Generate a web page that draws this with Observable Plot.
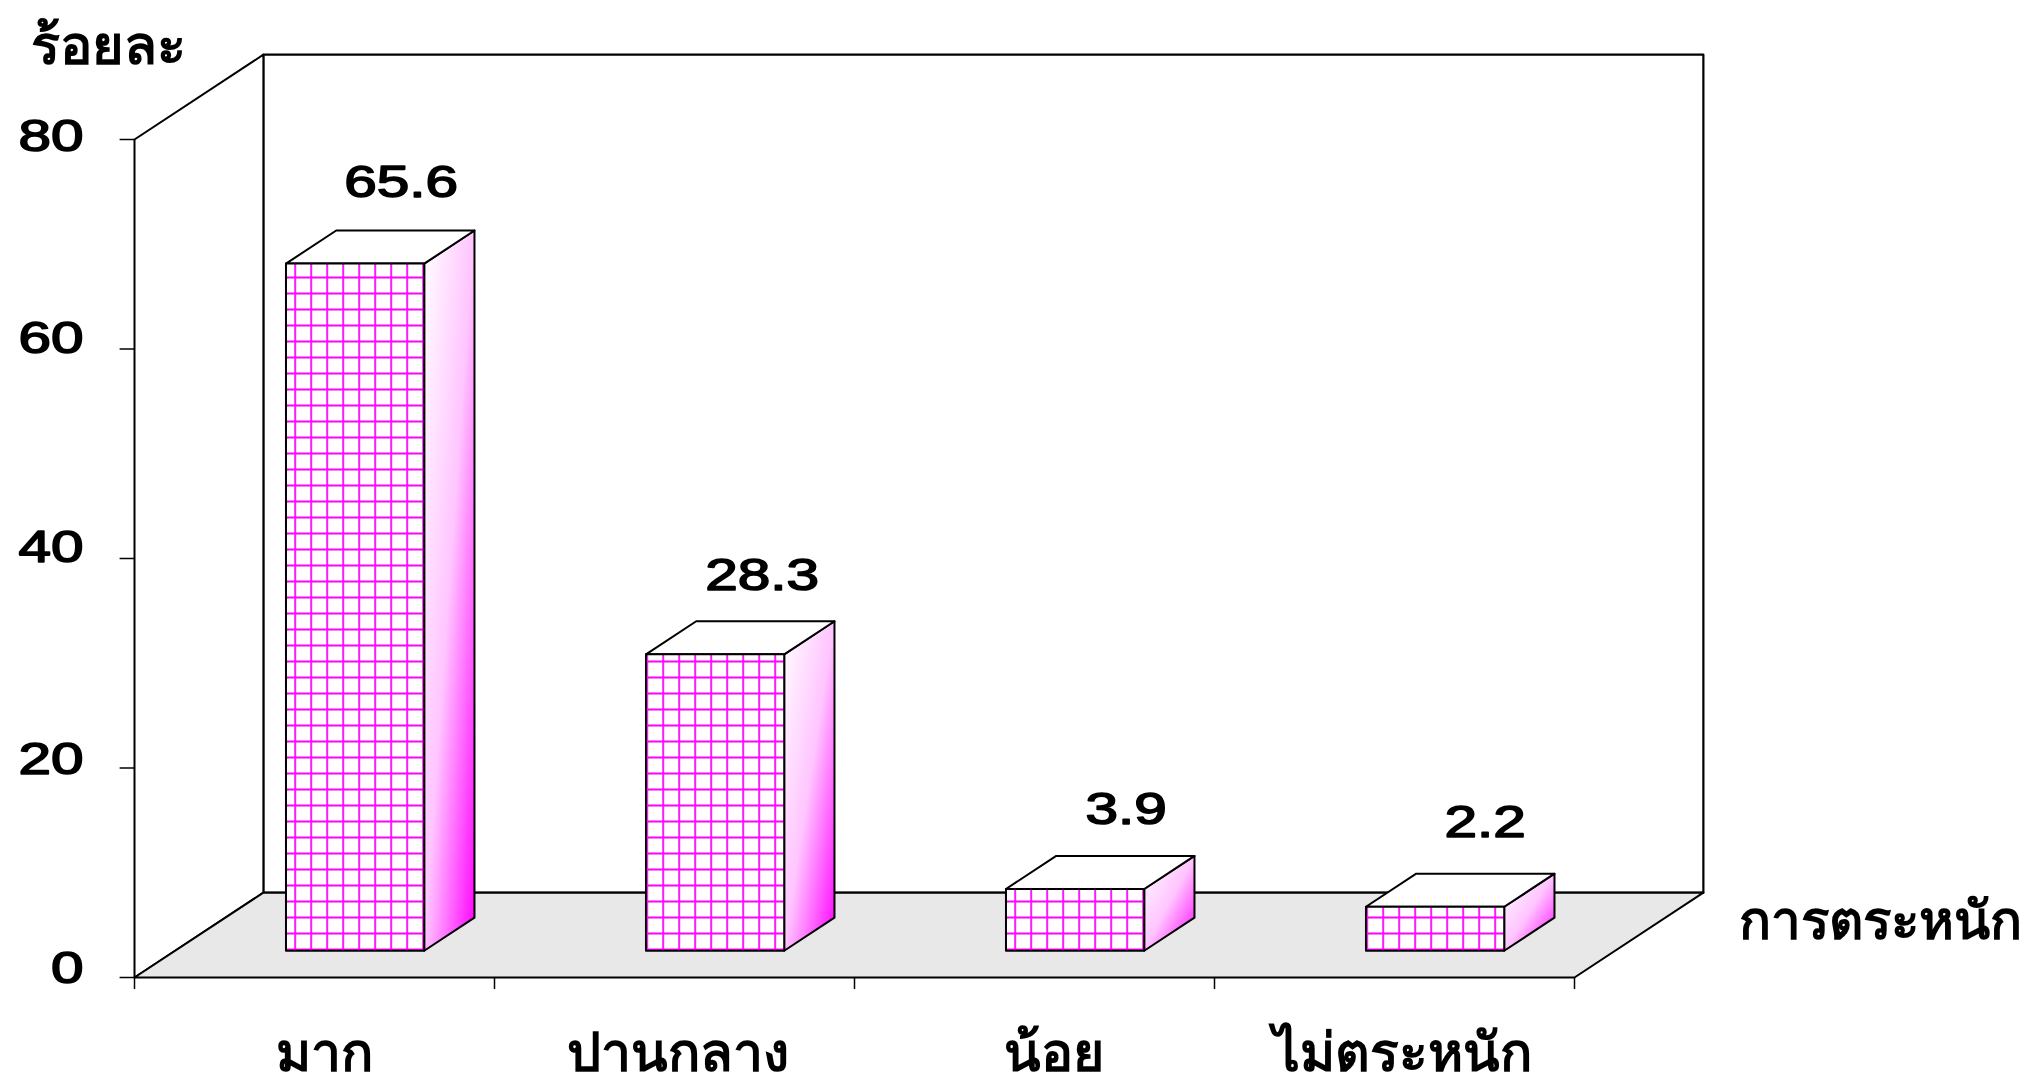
<!DOCTYPE html>
<html><head><meta charset="utf-8">
<script src="https://cdn.jsdelivr.net/npm/d3@7"></script>
<script src="https://cdn.jsdelivr.net/npm/@observablehq/plot@0.6"></script>
<style>html,body{margin:0;padding:0;background:#fff}svg{display:block}</style>
</head><body><div id="chart"></div>
<script>
const categories = ["มาก","ปานกลาง","น้อย","ไม่ตระหนัก"];
const valueLabels = ["65.6","28.3","3.9","2.2"];
const barHeights = [65.6,28.3,5.9,4.2];
const yTicks = [0,20,40,60,80];
const yTitle = "ร้อยละ";
const xTitle = "การตระหนัก";
const ink = "#000", magenta = "#ff00ff", floorFill = "#e8e8e8";
// hand-placed label nudges in the reference
const tickNudge = [-9,-8,-11,-10,-3];
const catNudge = [10,3,19,8];
const valueNudgeX = [46,47,51,50];
const valueNudgeY = [-81,-79,-79,-84];

const depthX = 0.358, depthY = 8.1;
const proj = (x,y,z)=>({x:x+depthX*z,y:y+depthY*z});
const poly = (id,pts)=>[...pts,pts[0]].map(p=>({id,...proj(...p)}));

const z0=0.315,z1=0.705,hw=0.192;
const wall = poly("wall",[[0,0,1],[4,0,1],[4,80,1],[0,80,1]]);
const side = poly("side",[[0,0,0],[0,0,1],[0,80,1],[0,80,0]]);
const floor = poly("floor",[[0,0,0],[4,0,0],[4,0,1],[0,0,1]]);
const fronts=[],tops=[],sides=[];
barHeights.forEach((h,i)=>{
  const c=i+0.5,a=c-hw,b=c+hw;
  fronts.push(...poly("f"+i,[[a,0,z0],[b,0,z0],[b,h,z0],[a,h,z0]]));
  tops.push(...poly("t"+i,[[a,h,z0],[b,h,z0],[b,h,z1],[a,h,z1]]));
  sides.push(...poly("s"+i,[[b,0,z0],[b,0,z1],[b,h,z1],[b,h,z0]]));
});
const labels = barHeights.map((h,i)=>({...proj(i+0.5,h,z0),t:valueLabels[i]}));

const defs = ()=>{
  const s=d3.create("svg:defs");
  const g=s.append("linearGradient").attr("id","sideGrad").attr("x1",0).attr("x2",1).attr("y1",0).attr("y2",1);
  g.append("stop").attr("offset",0).attr("stop-color","#fff");
  g.append("stop").attr("offset",0.5).attr("stop-color","#ffc4ff");
  g.append("stop").attr("offset",1).attr("stop-color",magenta);
  const p=s.append("pattern").attr("id","grid").attr("patternUnits","userSpaceOnUse")
    .attr("width",16).attr("height",16).attr("x",5.7).attr("y",4);
  p.append("rect").attr("width",16).attr("height",16).attr("fill","#fff");
  p.append("path").attr("d","M1 0V16M0 1H16").attr("stroke",magenta).attr("stroke-width",1.8).attr("fill","none");
  return s.node();
};
const font = "'Liberation Sans',Arial,sans-serif";
const numStyle = {fontSize:45,fontWeight:"normal",fill:ink,stroke:ink,strokeWidth:1.6,className:"num"};
const chart = Plot.plot({
  width:2026,height:1077,
  marginLeft:134,marginRight:452,marginTop:139,marginBottom:100,
  x:{type:"linear",domain:[0,4],axis:null},
  y:{type:"linear",domain:[0,80],axis:null},
  style:{background:"#fff",fontFamily:font},
  marks:[
    defs,
    Plot.line(wall,{x:"x",y:"y",z:"id",fill:"#fff",stroke:ink,strokeWidth:2.2}),
    Plot.line(side,{x:"x",y:"y",z:"id",fill:"#fff",stroke:ink,strokeWidth:2}),
    Plot.line(floor,{x:"x",y:"y",z:"id",fill:floorFill,stroke:ink,strokeWidth:2}),
    Plot.ruleY(yTicks,{x1:-0.04,x2:0,y:d=>d,stroke:ink,strokeWidth:1.5}),
    Plot.ruleX([0,1,2,3,4],{x:d=>d,y1:0,y2:-1.15,stroke:ink,strokeWidth:1.5}),
    Plot.line(sides,{x:"x",y:"y",z:"id",fill:"url(#sideGrad)",stroke:ink,strokeWidth:2}),
    Plot.line(tops,{x:"x",y:"y",z:"id",fill:"#fff",stroke:ink,strokeWidth:2}),
    Plot.line(fronts,{x:"x",y:"y",z:"id",fill:"url(#grid)",stroke:ink,strokeWidth:2}),
    ...yTicks.map((t,i)=>Plot.text([t],{x:0,y:d=>d,text:d=>String(d),dx:-51,dy:tickNudge[i],textAnchor:"end",...numStyle})),
    ...labels.map((l,i)=>Plot.text([l],{x:"x",y:"y",text:"t",dx:valueNudgeX[i],dy:valueNudgeY[i],textAnchor:"middle",...numStyle})),
    ...categories.map((t,i)=>Plot.text([t],{x:i+0.5,y:0,text:d=>d,dx:catNudge[i],dy:76,textAnchor:"middle",fontSize:53.5,fontWeight:"bold",fill:ink})),
    Plot.text([yTitle],{x:0,y:80,text:d=>d,dx:-26,dy:-93,textAnchor:"middle",fontSize:54,fontWeight:"bold",fill:ink}),
    Plot.text([xTitle],{x:4,y:0,text:d=>d,dx:164,dy:-55,textAnchor:"start",fontSize:53,fontWeight:"bold",fill:ink})
  ]
});
document.getElementById("chart").append(chart);
chart.querySelectorAll(".num text").forEach(t=>{
  t.setAttribute("textLength",t.getComputedTextLength()*1.3);
  t.setAttribute("lengthAdjust","spacingAndGlyphs");
});
</script></body></html>
